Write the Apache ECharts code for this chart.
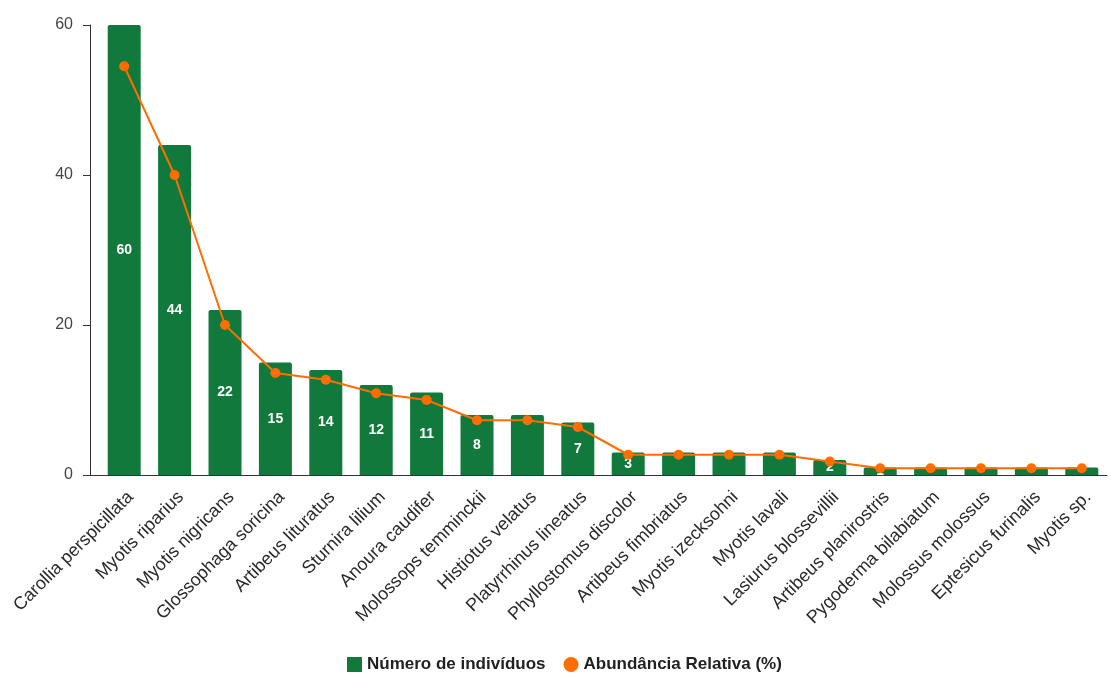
<!DOCTYPE html>
<html>
<head>
<meta charset="utf-8">
<script src="https://cdn.jsdelivr.net/npm/echarts@6/dist/echarts.min.js"></script>
<style>html,body{margin:0;padding:0;background:#fff}#c{width:1111px;height:675px}</style>
</head>
<body>
<div id="c"></div>
<script>
const categories = ['Carollia perspicillata','Myotis riparius','Myotis nigricans','Glossophaga soricina','Artibeus lituratus','Sturnira lilium','Anoura caudifer','Molossops temminckii','Histiotus velatus','Platyrrhinus lineatus','Phyllostomus discolor','Artibeus fimbriatus','Myotis izecksohni','Myotis lavali','Lasiurus blossevillii','Artibeus planirostris','Pygoderma bilabiatum','Molossus molossus','Eptesicus furinalis','Myotis sp.'];
const individuos = [60,44,22,15,14,12,11,8,8,7,3,3,3,3,2,1,1,1,1,1];
const abundancia = [54.5,40.0,20.0,13.6,12.7,10.9,10.0,7.3,7.3,6.4,2.7,2.7,2.7,2.7,1.8,0.9,0.9,0.9,0.9,0.9];
const yTicks = [0,20,40,60];
const hiddenLabels = [8,11,12,13,16,17,18,19];

const chart = echarts.init(document.getElementById('c'));
chart.setOption({
  animation: false,
  textStyle: {fontFamily: 'Liberation Sans, Arial, sans-serif'},
  grid: {left: 99, right: 4, top: 25, bottom: 200, containLabel: false},
  legend: {
    top: 651, left: 342,
    itemWidth: 15, itemHeight: 15, itemGap: 18,
    textStyle: {fontSize: 17, fontWeight: 'bold', color: '#222', padding: [0,0,0,0]},
    data: [{name: 'Número de indivíduos', icon: 'rect'}, {name: 'Abundância Relativa (%)', icon: 'circle'}]
  },
  xAxis: {
    type: 'category', data: categories,
    axisLine: {lineStyle: {color: '#333', width: 1}},
    axisTick: {show: false},
    axisLabel: {rotate: 45, interval: 0, margin: 13, fontSize: 18, color: '#2a2a2a', verticalAlign: 'top'}
  },
  yAxis: {
    type: 'value', min: yTicks[0], max: yTicks[yTicks.length-1], interval: 20,
    offset: 9,
    axisLine: {show: true, lineStyle: {color: '#333', width: 1}},
    axisTick: {show: true, length: 7, lineStyle: {color: '#333'}},
    splitLine: {show: false},
    axisLabel: {fontSize: 16, color: '#444', margin: 17}
  },
  series: [
    {
      name: 'Número de indivíduos', type: 'bar', barWidth: 33,
      itemStyle: {color: '#10793b', borderRadius: [2,2,0,0]},
      label: {show: true, position: 'inside', color: '#fff', fontWeight: 'bold', fontSize: 14},
      data: individuos.map((v,i) => hiddenLabels.includes(i) ? {value: v, label: {show: false}} : v)
    },
    {
      name: 'Abundância Relativa (%)', type: 'line',
      symbol: 'circle', symbolSize: 10,
      lineStyle: {color: '#ff6d00', width: 2},
      itemStyle: {color: '#ff6d00'},
      data: abundancia
    }
  ]
});
const y0 = Math.round(chart.convertToPixel({yAxisIndex: 0}, 0)) + 0.5;
chart.setOption({graphic: [{type: 'line', silent: true, z: 10,
  shape: {x1: 83, y1: y0, x2: 100, y2: y0}, style: {stroke: '#333', lineWidth: 1}}]});
</script>
</body>
</html>
